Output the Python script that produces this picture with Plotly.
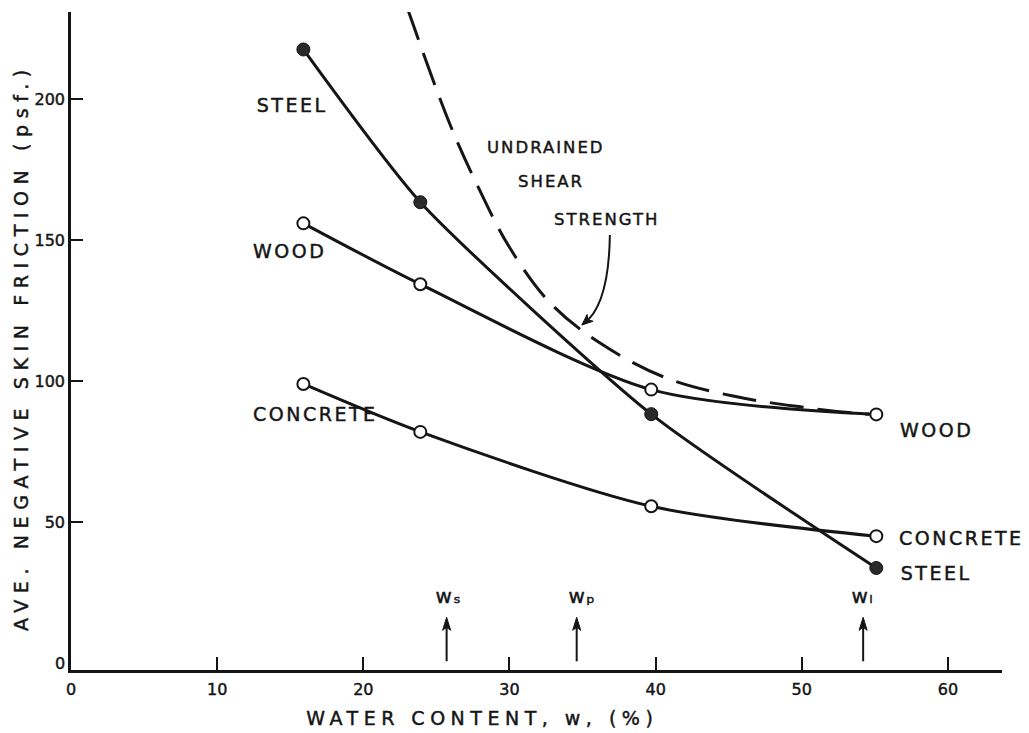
import json
import plotly.graph_objects as go

# ---- data ----
water = [15.9, 23.9, 39.7, 55.1]           # water content (%) of the test points
steel = [217.7, 163.5, 88.3, 33.7]         # ave. negative skin friction (psf)
wood = [156.0, 134.4, 97.0, 88.2]
concrete = [99.0, 82.0, 55.6, 45.0]

shear_x = [23.0, 25.9, 27.8, 30.0, 32.8, 36.2, 40.6, 45.3, 50.0, 53.5, 54.6]
shear_y = [232.6, 191.5, 169.5, 147.5, 127.7, 113.5, 101.4, 94.7, 90.8, 88.7, 88.3]

limit_x = [25.7, 34.6, 54.2]               # w_s, w_p, w_l
limit_labels = ["w\u209b", "w\u209a", "w\u2097"]

x_ticks = [0, 10, 20, 30, 40, 50, 60]
y_ticks = [50, 100, 150, 200]

INK = "#151515"
FONT = "DejaVu Sans"

# plot geometry (for sizing arrowheads in pixels)
W, H = 1029, 733
ML, MR, MT, MB = 71, 27, 12, 63
XR = [0, 63.7]
YR = [-2.5, 231]
PX_X = (W - ML - MR) / (XR[1] - XR[0])     # pixels per x unit
PX_Y = (H - MT - MB) / (YR[1] - YR[0])     # pixels per y unit

fig = go.Figure()

fig.add_trace(go.Scatter(
    x=shear_x, y=shear_y, mode="lines",
    line=dict(color=INK, width=3, dash="34px,14px", shape="spline", smoothing=1.0),
    hoverinfo="skip"))

open_marker = dict(symbol="circle", size=12, color="white", line=dict(color=INK, width=2))
fig.add_trace(go.Scatter(
    x=water, y=concrete, mode="lines+markers",
    line=dict(color=INK, width=3, shape="spline", smoothing=0.8), marker=open_marker))
fig.add_trace(go.Scatter(
    x=water, y=wood, mode="lines+markers",
    line=dict(color=INK, width=3, shape="spline", smoothing=0.8), marker=open_marker))
fig.add_trace(go.Scatter(
    x=water, y=steel, mode="lines+markers",
    line=dict(color=INK, width=3, shape="spline", smoothing=0.6),
    marker=dict(symbol="circle", size=13, color="#2a2a2a", line=dict(color=INK, width=1))))

annotations = []
spacing = []

def label(text, x, y, size=19, sp=2.5, ref="x", **kw):
    annotations.append(dict(text=text, x=x, y=y,
                            xref="x" if ref == "x" else "paper",
                            yref="y" if ref == "x" else "paper",
                            xanchor="center", yanchor="middle",
                            showarrow=False,
                            font=dict(family=FONT, size=size, color=INK), **kw))
    spacing.append(sp)

label("STEEL", 15.15, 198.0)
label("WOOD", 14.98, 146.2)
label("CONCRETE", 16.76, 88.4)
label("UNDRAINED", 32.5, 182.8, size=16.5, sp=2)
label("SHEAR", 32.87, 171.0, size=16.5, sp=2)
label("STRENGTH", 36.66, 157.2, size=16.5, sp=2)
label("WOOD", 59.2, 82.7)
label("CONCRETE", 60.9, 44.5)
label("STEEL", 59.2, 32.1)

shapes = []

def arrow_head(tip_x, tip_y, dx_px, dy_px, length=12, half=4.5, notch=3):
    """Barbed arrowhead at (tip_x, tip_y); direction (dx_px, dy_px) in screen pixels (y down)."""
    n = (dx_px ** 2 + dy_px ** 2) ** 0.5
    ux, uy = dx_px / n, dy_px / n
    px, py = -uy, ux
    def pt(ax_px, ay_px):
        return tip_x + ax_px / PX_X, tip_y - ay_px / PX_Y
    b1 = pt(-ux * length + px * half, -uy * length + py * half)
    b2 = pt(-ux * length - px * half, -uy * length - py * half)
    nb = pt(-ux * (length - notch), -uy * (length - notch))
    path = "M %.4f,%.4f L %.4f,%.4f L %.4f,%.4f L %.4f,%.4f Z" % (
        tip_x, tip_y, b1[0], b1[1], nb[0], nb[1], b2[0], b2[1])
    shapes.append(dict(type="path", xref="x", yref="y", path=path,
                       fillcolor=INK, line=dict(color=INK, width=1)))

# limit labels and arrows
label_x = [25.85, 35.0, 54.2]
for lx, tx, t in zip(limit_x, label_x, limit_labels):
    label(t, tx, 23.9, size=20, sp=1.5)
    shapes.append(dict(type="line", xref="x", yref="y", x0=lx, x1=lx, y0=0.6, y1=13.5,
                       line=dict(color=INK, width=2)))
    arrow_head(lx, 16.2, 0, -1, length=13, half=4, notch=3)

# curved pointer from STRENGTH to the dashed curve
shapes.append(dict(type="path", xref="x", yref="y",
                   path="M 36.87,151.9 Q 36.8,127.0 35.1,120.5",
                   line=dict(color=INK, width=2)))
arrow_head(34.95, 119.9, -8, 7, length=11, half=4.5, notch=3)

# zero label on the y axis
label("0", -0.0118, 0.0106, size=16, sp=0, ref="paper")

# axis titles
label("WATER CONTENT, w, (%)", 0.4425, -0.073, size=19, sp=5.5, ref="paper")
label("AVE. NEGATIVE SKIN FRICTION (psf.)", -0.0537, 0.491, size=19, sp=6.6, ref="paper",
      textangle=-90)

axis_common = dict(showline=True, linewidth=2.5, linecolor=INK, ticks="inside",
                   tickwidth=2, tickcolor=INK, showgrid=False, zeroline=False,
                   tickfont=dict(family=FONT, size=16, color=INK))

fig.update_layout(
    width=W, height=H,
    margin=dict(l=ML, r=MR, t=MT, b=MB),
    paper_bgcolor="white", plot_bgcolor="white",
    showlegend=False,
    xaxis=dict(range=XR, tickvals=x_ticks, ticklen=13, ticklabelstandoff=3,
               **axis_common),
    yaxis=dict(range=YR, tickvals=y_ticks, ticklen=12, ticklabelstandoff=0,
               **axis_common),
    annotations=annotations,
    shapes=shapes,
)

post = """
var gd = document.getElementById('{plot_id}');
var sp = %s;
gd.querySelectorAll('g.annotation').forEach(function(g){
  var i = parseInt(g.getAttribute('data-index'));
  var t = g.querySelector('text.annotation-text');
  if (t && sp[i]) { t.style.letterSpacing = sp[i] + 'px'; }
});
gd.querySelectorAll('text').forEach(function(t){
  t.style.stroke = '%s';
  t.style.strokeWidth = '0.45px';
});
""" % (json.dumps(spacing), INK)

fig.write_html("out.html", post_script=post)
